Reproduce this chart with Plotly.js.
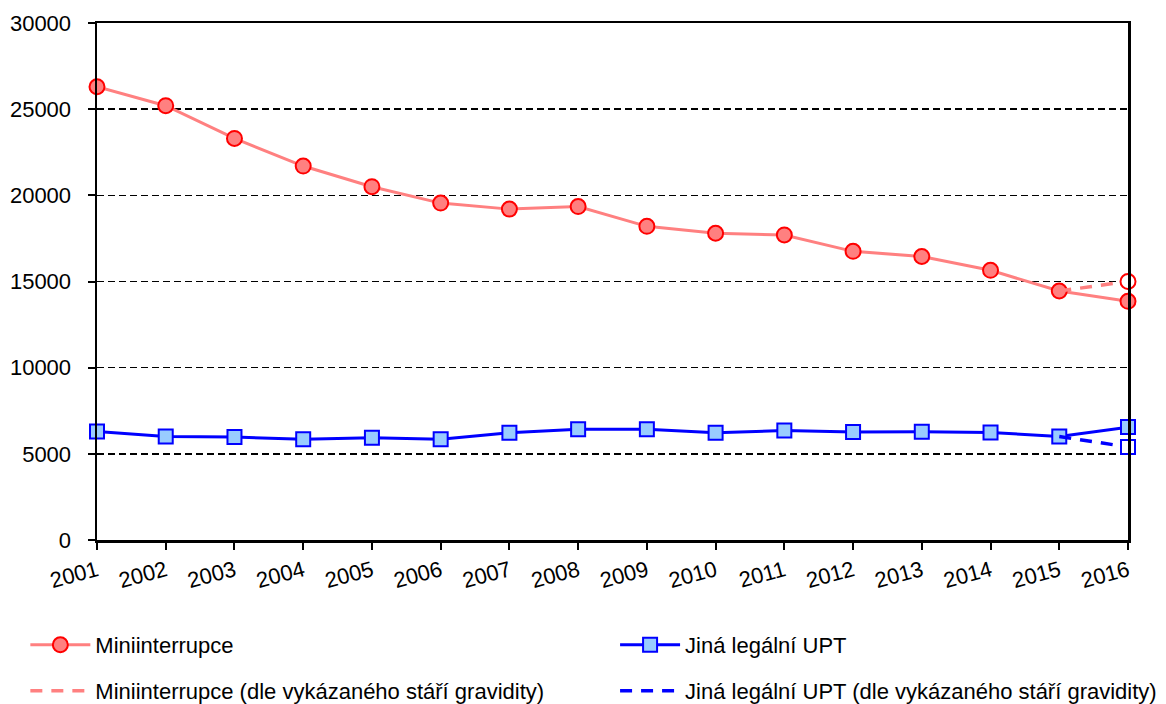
<!DOCTYPE html>
<html>
<head>
<meta charset="utf-8">
<script src="https://cdn.plot.ly/plotly-3.0.1.min.js"></script>
<style>html,body{margin:0;padding:0;background:#fff;}#chart{width:1166px;height:704px;}</style>
</head>
<body>
<div id="chart"></div>
<script>
const years = [2001,2002,2003,2004,2005,2006,2007,2008,2009,2010,2011,2012,2013,2014,2015,2016];
const mini = [26300,25200,23300,21700,20500,19550,19200,19350,18200,17800,17700,16750,16450,15650,14450,13850];
const jina = [6300,6000,5970,5850,5930,5840,6220,6420,6430,6220,6350,6260,6280,6240,6000,6550];
const altYears = [2015,2016];
const miniAlt = [14450,15000];
const jinaAlt = [6000,5400];
const names = ["Miniinterrupce","Jiná legální UPT","Miniinterrupce (dle vykázaného stáří gravidity)","Jiná legální UPT (dle vykázaného stáří gravidity)"];

const FONT = "Liberation Sans, Arial, sans-serif";
const pink = "#FF8080", red = "#FF0000", blue = "#0000FF", lblue = "#99CCFF";

const traces = [
  {x: years, y: mini, mode: "lines+markers", name: names[0], legend: "legend",
   line: {color: pink, width: 3},
   marker: {symbol: "circle", size: 15, color: pink, line: {color: red, width: 2}}, cliponaxis: false},
  {x: years, y: jina, mode: "lines+markers", name: names[1], legend: "legend2",
   line: {color: blue, width: 3},
   marker: {symbol: "square", size: 14, color: lblue, line: {color: blue, width: 2}}, cliponaxis: false},
  {x: altYears, y: miniAlt, mode: "lines", name: names[2], legend: "legend3",
   line: {color: pink, width: 3.5, dash: "12px,9px"}, cliponaxis: false},
  {x: altYears, y: jinaAlt, mode: "lines", name: names[3], legend: "legend4",
   line: {color: blue, width: 3.5, dash: "12px,9px"}, cliponaxis: false},
  {x: altYears.slice(1), y: miniAlt.slice(1), mode: "markers", showlegend: false,
   marker: {symbol: "circle", size: 15, color: "#FFFFFF", line: {color: red, width: 2}}, cliponaxis: false},
  {x: altYears.slice(1), y: jinaAlt.slice(1), mode: "markers", showlegend: false,
   marker: {symbol: "square", size: 14, color: "#FFFFFF", line: {color: blue, width: 2}}, cliponaxis: false}
];

const legendBase = {
  orientation: "h", xanchor: "left", yanchor: "middle",
  font: {family: FONT, size: 22, color: "#000"},
  itemwidth: 60, bgcolor: "rgba(0,0,0,0)"
};
const col1 = -0.0695, col2 = 0.5025, row1 = -0.203, row2 = -0.292;

const layout = {
  width: 1166, height: 704,
  margin: {l: 97, r: 38, t: 23, b: 164, autoexpand: false},
  paper_bgcolor: "#fff", plot_bgcolor: "#fff",
  font: {family: FONT, size: 22, color: "#000"},
  showlegend: true,
  xaxis: {
    type: "linear", range: [2001, 2016], tickmode: "array", tickvals: years, ticktext: years.map(String),
    tickangle: -15, ticks: "outside", ticklen: 7, tickwidth: 2, tickcolor: "#000",
    showline: true, linecolor: "#000", linewidth: 2.5, mirror: true, automargin: false,
    showgrid: false, zeroline: false, tickfont: {family: FONT, size: 22, color: "#000"}
  },
  yaxis: {
    range: [0, 30000], dtick: 5000, tick0: 0, ticks: "outside", ticklen: 7, tickwidth: 2, tickcolor: "#000",
    showline: true, linecolor: "#000", linewidth: 2.5, mirror: true, automargin: false,
    showgrid: true, gridcolor: "#000", gridwidth: 1.5, griddash: "7px,4px", ticklabelstandoff: 12,
    zeroline: false, tickformat: "d", tickfont: {family: FONT, size: 22, color: "#000"}
  },
  legend: Object.assign({}, legendBase, {x: col1, y: row1}),
  legend2: Object.assign({}, legendBase, {x: col2, y: row1}),
  legend3: Object.assign({}, legendBase, {x: col1, y: row2}),
  legend4: Object.assign({}, legendBase, {x: col2, y: row2})
};

Plotly.newPlot("chart", traces, layout, {displayModeBar: false, staticPlot: true});
</script>
</body>
</html>
